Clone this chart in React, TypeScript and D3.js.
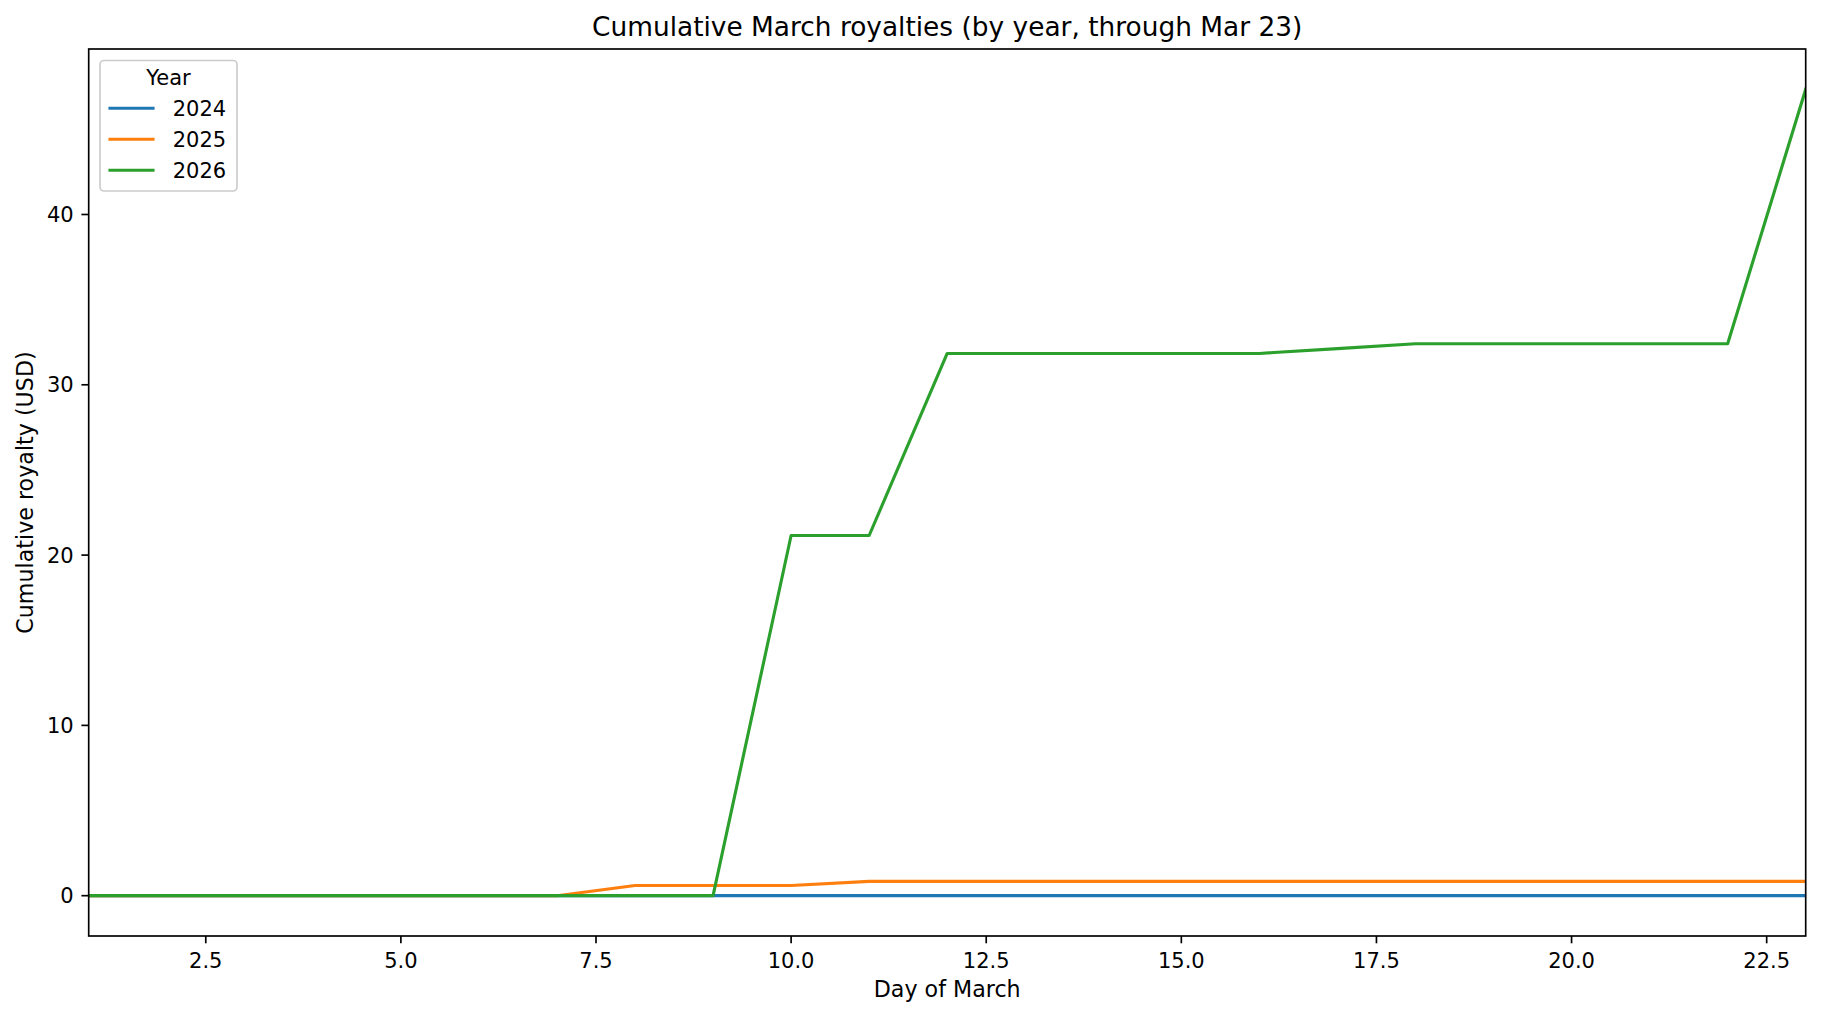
import React from "react";
import * as d3 from "d3";

const days = [1, 2, 3, 4, 5, 6, 7, 8, 9, 10, 11, 12, 13, 14, 15, 16, 17, 18, 19, 20, 21, 22, 23];
const royalties2024 = [0, 0, 0, 0, 0, 0, 0, 0, 0, 0, 0, 0, 0, 0, 0, 0, 0, 0, 0, 0, 0, 0, 0];
const royalties2025 = [0, 0, 0, 0, 0, 0, 0, 0.6, 0.6, 0.6, 0.84, 0.84, 0.84, 0.84, 0.84, 0.84, 0.84, 0.84, 0.84, 0.84, 0.84, 0.84, 0.84];
const royalties2026 = [0, 0, 0, 0, 0, 0, 0, 0, 0, 21.15, 21.15, 31.84, 31.84, 31.84, 31.84, 31.84, 32.12, 32.41, 32.41, 32.41, 32.41, 32.41, 47.35];
const years = ["2024", "2025", "2026"];
const colors = ["#1f77b4", "#ff7f0e", "#2ca02c"];
const xTicks = [2.5, 5, 7.5, 10, 12.5, 15, 17.5, 20, 22.5];
const yTicks = [0, 10, 20, 30, 40];

const W = 1821;
const H = 1016;
const left = 88.7;
const right = 1805.7;
const top = 49;
const bottom = 936;
const FONT = "DejaVu Sans, Liberation Sans, sans-serif";
const FS = 21;
const LFS = 22.2;
const TFS = 26.4;

export default function App() {
  const series = [royalties2024, royalties2025, royalties2026];
  const allVals = series.flat();
  const maxV = d3.max(allVals) as number;
  const minV = d3.min(allVals) as number;
  const pad = (maxV - minV) * 0.05;
  const x = d3.scaleLinear().domain([1, 23]).range([left, right]);
  const y = d3.scaleLinear().domain([minV - pad, maxV + pad]).range([bottom, top]);
  const line = d3
    .line<number>()
    .x((_, i) => x(days[i]))
    .y((d) => y(d));

  return (
    <svg
      width={W}
      height={H}
      viewBox={`0 0 ${W} ${H}`}
      style={{ position: "absolute", left: 0, top: 0, background: "#fff" }}
      fontFamily={FONT}
    >
      <defs>
        <clipPath id="plotclip">
          <rect x={left} y={top} width={right - left} height={bottom - top} />
        </clipPath>
      </defs>
      <rect x={0} y={0} width={W} height={H} fill="#fff" />
      <g clipPath="url(#plotclip)">
        {series.map((s, k) => (
          <path
            key={years[k]}
            d={line(s) || ""}
            fill="none"
            stroke={colors[k]}
            strokeWidth={3.125}
            strokeLinejoin="round"
            strokeLinecap="square"
          />
        ))}
      </g>
      {/* spines */}
      <rect
        x={left}
        y={top}
        width={right - left}
        height={bottom - top}
        fill="none"
        stroke="#000"
        strokeWidth={1.67}
      />
      {/* x ticks */}
      {xTicks.map((t) => (
        <g key={"x" + t}>
          <line x1={x(t)} x2={x(t)} y1={bottom} y2={bottom + 7.3} stroke="#000" strokeWidth={1.67} />
          <text x={x(t)} y={967.7} textAnchor="middle" fontSize={FS} fill="#000">
            {t.toFixed(1)}
          </text>
        </g>
      ))}
      {/* y ticks */}
      {yTicks.map((t) => (
        <g key={"y" + t}>
          <line x1={left - 7.3} x2={left} y1={y(t)} y2={y(t)} stroke="#000" strokeWidth={1.67} />
          <text x={left - 15} y={y(t)} dy="0.36em" textAnchor="end" fontSize={FS} fill="#000">
            {t}
          </text>
        </g>
      ))}
      {/* title */}
      <text x={(left + right) / 2} y={35.5} textAnchor="middle" fontSize={TFS} fill="#000">
        Cumulative March royalties (by year, through Mar 23)
      </text>
      {/* axis labels */}
      <text x={(left + right) / 2} y={997.3} textAnchor="middle" fontSize={LFS} fill="#000">
        Day of March
      </text>
      <text
        transform={`translate(33, ${(top + bottom) / 2}) rotate(-90)`}
        textAnchor="middle"
        fontSize={LFS}
        fill="#000"
      >
        Cumulative royalty (USD)
      </text>
      {/* legend */}
      <g>
        <rect
          x={100}
          y={60.5}
          width={137}
          height={130.5}
          rx={4}
          ry={4}
          fill="#fff"
          fillOpacity={0.8}
          stroke="#cccccc"
          strokeWidth={1.67}
        />
        <text x={168.5} y={85} textAnchor="middle" fontSize={FS} fill="#000">
          Year
        </text>
        {years.map((yr, k) => (
          <g key={yr}>
            <line
              x1={110}
              x2={153}
              y1={108.3 + k * 31}
              y2={108.3 + k * 31}
              stroke={colors[k]}
              strokeWidth={3.125}
              strokeLinecap="square"
            />
            <text x={172.7} y={116 + k * 31} fontSize={FS} fill="#000">
              {yr}
            </text>
          </g>
        ))}
      </g>
    </svg>
  );
}
